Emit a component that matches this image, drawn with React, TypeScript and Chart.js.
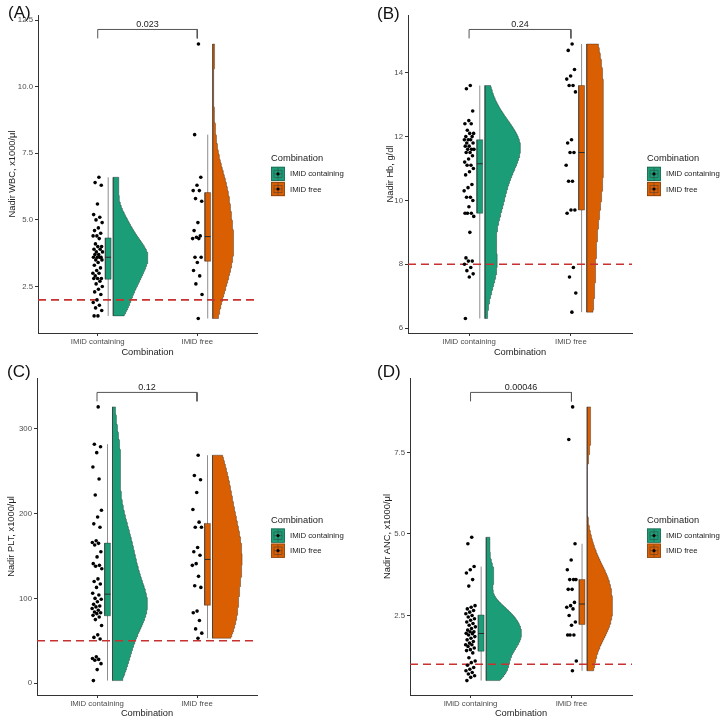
import { useEffect, useRef } from "react";
import { Chart, registerables } from "chart.js";

Chart.register(...registerables);

const FONT = '"Liberation Sans", Arial, Helvetica, sans-serif';
Chart.defaults.font.family = FONT;

// ---- shared categories ----
const groupNames = ["IMiD containing", "IMiD free"];
const groupColors = ["#1B9E77", "#D95F02"];
const xAxisTitle = "Combination";

// ---- (A) nadir WBC, x1000/μl ----
const wbcContaining = [6.6, 6.4, 6.3, 5.6, 5.2, 5.1, 5.0, 4.9, 4.7, 4.6, 4.5, 4.4, 4.4, 4.3, 4.1, 4.0, 4.0, 3.9, 3.9, 3.8, 3.8, 3.7, 3.7, 3.6, 3.6, 3.6, 3.6, 3.5, 3.5, 3.4, 3.3, 3.2, 3.1, 3.0, 3.0, 2.9, 2.8, 2.8, 2.8, 2.7, 2.6, 2.5, 2.4, 2.3, 2.2, 2.0, 1.9, 1.8, 1.7, 1.6, 1.4, 1.4];
const wbcFree = [11.6, 8.2, 6.6, 6.3, 6.1, 6.1, 5.8, 5.7, 4.9, 4.6, 4.4, 4.35, 4.3, 4.3, 3.6, 3.6, 3.4, 3.1, 2.9, 2.6, 2.2, 1.3];
const wbcTickLabels = ["2.5", "5.0", "7.5", "10.0", "12.5"];
const wbcCutoff = 2;
const wbcP = "0.023";

// ---- (B) nadir Hb, g/dl ----
const hbContaining = [13.6, 13.5, 12.8, 12.5, 12.4, 12.4, 12.2, 12.1, 12.1, 12.0, 12.0, 11.9, 11.9, 11.9, 11.8, 11.8, 11.7, 11.7, 11.6, 11.6, 11.6, 11.5, 11.5, 11.4, 11.3, 11.2, 11.1, 11.1, 11.0, 10.9, 10.8, 10.5, 10.4, 10.3, 10.1, 10.1, 10.0, 9.8, 9.6, 9.6, 9.6, 9.5, 9.0, 8.2, 8.1, 8.1, 8.0, 7.9, 7.8, 7.7, 7.6, 6.3];
const hbFree = [14.9, 14.7, 14.1, 13.9, 13.8, 13.6, 13.6, 13.4, 11.9, 11.8, 11.5, 11.5, 11.1, 10.6, 10.6, 9.7, 9.7, 9.6, 7.9, 7.6, 7.1, 6.5];
const hbTickLabels = ["6", "8", "10", "12", "14"];
const hbCutoff = 8;
const hbP = "0.24";

// ---- (C) nadir PLT, x1000/μl ----
const pltContaining = [326, 282, 279, 272, 255, 241, 222, 204, 196, 188, 184, 168, 166, 165, 163, 155, 149, 141, 139, 138, 135, 123, 120, 117, 113, 106, 104, 100, 99, 96, 93, 91, 90, 88, 86, 84, 83, 82, 80, 78, 75, 68, 57, 54, 52, 31, 29, 28, 27, 23, 16, 3];
const pltFree = [269, 245, 240, 225, 205, 190, 184, 184, 160, 155, 151, 141, 139, 126, 115, 113, 85, 83, 74, 64, 59, 53];
const pltTickLabels = ["0", "100", "200", "300"];
const pltCutoff = 50;
const pltP = "0.12";

// ---- (D) nadir ANC, x1000/μl ----
const ancContaining = [4.9, 4.7, 4.0, 3.9, 3.8, 3.6, 3.4, 2.8, 2.75, 2.7, 2.65, 2.6, 2.55, 2.5, 2.45, 2.4, 2.35, 2.3, 2.25, 2.2, 2.15, 2.1, 2.05, 2.0, 2.0, 1.95, 1.94, 1.9, 1.85, 1.8, 1.75, 1.7, 1.65, 1.6, 1.6, 1.55, 1.5, 1.45, 1.42, 1.35, 1.2, 1.1, 1.05, 0.97, 0.9, 0.85, 0.8, 0.75, 0.7, 0.65, 0.6, 0.5];
const ancFree = [8.9, 7.9, 4.7, 4.2, 3.9, 3.6, 3.6, 3.6, 3.3, 3.3, 2.9, 2.8, 2.75, 2.7, 2.5, 2.3, 2.2, 1.9, 1.9, 1.9, 1.1, 0.8];
const ancTickLabels = ["2.5", "5.0", "7.5"];
const ancCutoff = 1;
const ancP = "0.00046";

type PanelSpec = {
  tag: string;
  yTitle: string;
  series: number[][];
  tickLabels: string[];
  cutoff: number;
  p: string;
};

const panels: PanelSpec[] = [
  { tag: "(A)", yTitle: "Nadir WBC, x1000/μl", series: [wbcContaining, wbcFree], tickLabels: wbcTickLabels, cutoff: wbcCutoff, p: wbcP },
  { tag: "(B)", yTitle: "Nadir Hb, g/dl", series: [hbContaining, hbFree], tickLabels: hbTickLabels, cutoff: hbCutoff, p: hbP },
  { tag: "(C)", yTitle: "Nadir PLT, x1000/μl", series: [pltContaining, pltFree], tickLabels: pltTickLabels, cutoff: pltCutoff, p: pltP },
  { tag: "(D)", yTitle: "Nadir ANC, x1000/μl", series: [ancContaining, ancFree], tickLabels: ancTickLabels, cutoff: ancCutoff, p: ancP },
];

// ---- page geometry of each panel (pixels inside its canvas) ----
const PANEL_W = 362;
const PANEL_H = 362;
const frames = [
  { left: 0, top: 0, plotLeft: 38, plotRight: 257, plotTop: 15, plotBottom: 333, yTitleX: 12.7, xTitleY: 352.3, legendX: 271, legendY: 158.3, tagX: 8, tagY: 13 },
  { left: 362, top: 0, plotLeft: 46, plotRight: 270, plotTop: 15, plotBottom: 333, yTitleX: 28, xTitleY: 352.3, legendX: 285, legendY: 158.3, tagX: 15, tagY: 14 },
  { left: 0, top: 363, plotLeft: 37, plotRight: 257, plotTop: 15, plotBottom: 332, yTitleX: 11.7, xTitleY: 350.3, legendX: 271, legendY: 157, tagX: 7, tagY: 9 },
  { left: 362, top: 363, plotLeft: 48, plotRight: 270, plotTop: 15, plotBottom: 332, yTitleX: 25.5, xTitleY: 350.3, legendX: 285, legendY: 157, tagX: 15, tagY: 9 },
];

// ---- raincloud layout in category units ----
const X_MIN = 0.4;
const X_MAX = 2.6;
const VIOLIN_OFFSET = 0.155;
const VIOLIN_WIDTH = 0.35;
const BOX_OFFSET = 0.105;
const BOX_HALF = 0.029;
const JITTER = 0.05;

const TITLE_SIZE = 9.3;
const TITLE_LH = TITLE_SIZE * 1.2;

// ---- statistics ----
const sortedCopy = (v: number[]) => [...v].sort((a, b) => a - b);

function quantile(s: number[], p: number) {
  const h = (s.length - 1) * p;
  const i = Math.floor(h);
  const j = Math.min(i + 1, s.length - 1);
  return s[i] + (h - i) * (s[j] - s[i]);
}

function boxStats(v: number[]) {
  const s = sortedCopy(v);
  const q1 = quantile(s, 0.25);
  const med = quantile(s, 0.5);
  const q3 = quantile(s, 0.75);
  const iqr = q3 - q1;
  const lowW = s.find((d) => d >= q1 - 1.5 * iqr) as number;
  const highW = [...s].reverse().find((d) => d <= q3 + 1.5 * iqr) as number;
  return { q1, med, q3, lowW, highW };
}

// Silverman's rule of thumb (bw.nrd0)
function bandwidth(v: number[]) {
  const s = sortedCopy(v);
  const n = s.length;
  const mean = s.reduce((a, b) => a + b, 0) / n;
  const sd = Math.sqrt(s.reduce((a, b) => a + (b - mean) ** 2, 0) / (n - 1));
  const iqr = quantile(s, 0.75) - quantile(s, 0.25);
  let lo = Math.min(sd, iqr / 1.34);
  if (!(lo > 0)) lo = sd || 1;
  return 0.9 * lo * Math.pow(n, -0.2);
}

// Gaussian kernel density, trimmed to the data range
function density(v: number[], steps = 256) {
  const h = bandwidth(v);
  const lo = Math.min(...v);
  const hi = Math.max(...v);
  const out: { y: number; d: number }[] = [];
  const norm = v.length * h * Math.sqrt(2 * Math.PI);
  for (let k = 0; k < steps; k++) {
    const y = lo + ((hi - lo) * k) / (steps - 1);
    let sum = 0;
    for (const xi of v) {
      const u = (y - xi) / h;
      sum += Math.exp(-0.5 * u * u);
    }
    out.push({ y, d: sum / norm });
  }
  return out;
}

// evenly spread horizontal jitter for the raw points
const jitter = (i: number) => ((((i + 1) * 0.6180339887) % 1) - 0.5) * 2 * JITTER;

function buildPanel(panel: PanelSpec) {
  const all = panel.series.flat();
  const lo = Math.min(...all);
  const top = Math.max(...all);
  const bracketY = top + 0.053 * (top - lo);
  const span = bracketY - lo;
  const yMin = lo - 0.05 * span;
  const yMax = bracketY + 0.05 * span;

  const dens = panel.series.map((v) => density(v));
  const peak = Math.max(...dens.flat().map((p) => p.d));

  const datasets: any[] = [];
  panel.series.forEach((vals, g) => {
    const cx = g + 1;
    const color = groupColors[g];

    // half violin
    const base = cx + VIOLIN_OFFSET;
    const curve = dens[g];
    const outline = [
      { x: base, y: curve[0].y },
      ...curve.map((p) => ({ x: base + (p.d / peak) * VIOLIN_WIDTH, y: p.y })),
      { x: base, y: curve[curve.length - 1].y },
      { x: base, y: curve[0].y },
    ];
    datasets.push({
      data: outline,
      backgroundColor: color,
      borderColor: "rgba(30,30,30,0.75)",
      borderWidth: 0.5,
      fill: "shape",
      order: 6,
    });

    // box plot
    const b = boxStats(vals);
    const bx = cx + BOX_OFFSET;
    datasets.push({
      data: [{ x: bx, y: b.lowW }, { x: bx, y: b.highW }],
      borderColor: "#8e8e8e",
      borderWidth: 1,
      order: 5,
    });
    datasets.push({
      data: [
        { x: bx - BOX_HALF, y: b.q1 },
        { x: bx + BOX_HALF, y: b.q1 },
        { x: bx + BOX_HALF, y: b.q3 },
        { x: bx - BOX_HALF, y: b.q3 },
        { x: bx - BOX_HALF, y: b.q1 },
      ],
      backgroundColor: color,
      borderColor: "rgba(40,40,40,0.7)",
      borderWidth: 0.6,
      fill: "shape",
      order: 4,
    });
    datasets.push({
      data: [{ x: bx - BOX_HALF, y: b.med }, { x: bx + BOX_HALF, y: b.med }],
      borderColor: "#2a2a2a",
      borderWidth: 1,
      order: 3,
    });

    // raw observations
    datasets.push({
      data: vals.map((v, i) => ({ x: cx + jitter(i), y: v })),
      showLine: false,
      pointRadius: 1.8,
      pointBackgroundColor: "#000",
      pointBorderWidth: 0,
      order: 0,
    });
  });

  // clinical cut-off
  datasets.push({
    data: [{ x: X_MIN, y: panel.cutoff }, { x: X_MAX, y: panel.cutoff }],
    borderColor: "#c8312f",
    borderWidth: 1.6,
    borderDash: [8, 5],
    order: 2,
  });

  // comparison bracket
  const tick = 0.031 * span;
  datasets.push({
    data: [
      { x: 1, y: bracketY - tick },
      { x: 1, y: bracketY },
      { x: 2, y: bracketY },
      { x: 2, y: bracketY - tick },
    ],
    borderColor: "#555",
    borderWidth: 1,
    order: 1,
  });

  return { datasets, yMin, yMax, bracketY };
}

function drawLegendKey(ctx: CanvasRenderingContext2D, x: number, y: number, w: number, h: number, color: string) {
  ctx.fillStyle = color;
  ctx.fillRect(x, y, w, h);
  ctx.strokeStyle = "rgba(40,40,40,0.6)";
  ctx.lineWidth = 0.6;
  ctx.strokeRect(x + 0.5, y + 0.5, w - 1, h - 1);
  const cx = x + w / 2;
  const cy = y + h / 2;
  ctx.strokeStyle = "rgba(60,60,60,0.8)";
  ctx.beginPath();
  ctx.moveTo(cx, y + 1);
  ctx.lineTo(cx, y + h - 1);
  ctx.stroke();
  ctx.strokeRect(x + 3, y + 3.5, w - 6, h - 7);
  ctx.beginPath();
  ctx.moveTo(x + 3, cy);
  ctx.lineTo(x + w - 3, cy);
  ctx.stroke();
  ctx.fillStyle = "#000";
  ctx.beginPath();
  ctx.arc(cx, cy, 1.6, 0, Math.PI * 2);
  ctx.fill();
}

function Panel({ panel, frame }: { panel: PanelSpec; frame: (typeof frames)[number] }) {
  const ref = useRef<HTMLCanvasElement | null>(null);

  useEffect(() => {
    if (!ref.current) return;
    const { datasets, yMin, yMax, bracketY } = buildPanel(panel);
    const tickValues = panel.tickLabels.map((t) => parseFloat(t));

    const decor = {
      id: "decor",
      afterDatasetsDraw(chart: any) {
        const { ctx, scales } = chart;
        ctx.save();
        ctx.font = `9px ${FONT}`;
        ctx.fillStyle = "#222";
        ctx.textAlign = "center";
        ctx.textBaseline = "alphabetic";
        ctx.fillText(panel.p, scales.x.getPixelForValue(1.5), scales.y.getPixelForValue(bracketY) - 2.5);
        ctx.restore();
      },
      afterDraw(chart: any) {
        const { ctx } = chart;
        ctx.save();
        // panel tag
        ctx.font = `17px ${FONT}`;
        ctx.fillStyle = "#111";
        ctx.textAlign = "left";
        ctx.textBaseline = "middle";
        ctx.fillText(panel.tag, frame.tagX, frame.tagY);
        // legend
        ctx.font = `${TITLE_SIZE}px ${FONT}`;
        ctx.fillStyle = "#222";
        ctx.fillText(xAxisTitle, frame.legendX, frame.legendY);
        groupNames.forEach((name, g) => {
          const ky = frame.legendY + 8.4 + g * 15.1;
          drawLegendKey(ctx, frame.legendX, ky, 14, 14.4, groupColors[g]);
          ctx.font = `7.8px ${FONT}`;
          ctx.fillStyle = "#222";
          ctx.textAlign = "left";
          ctx.textBaseline = "middle";
          ctx.fillText(name, frame.legendX + 19, ky + 7.6);
        });
        ctx.restore();
      },
    };

    const chart = new Chart(ref.current, {
      type: "line",
      data: { datasets },
      options: {
        responsive: false,
        animation: false,
        events: [],
        layout: {
          padding: { left: 0, top: frame.plotTop, right: PANEL_W - frame.plotRight, bottom: 0 },
        },
        elements: {
          point: { radius: 0 },
          line: { tension: 0 },
        },
        plugins: {
          legend: { display: false },
          tooltip: { enabled: false },
        },
        scales: {
          x: {
            type: "linear",
            min: X_MIN,
            max: X_MAX,
            bounds: "data",
            afterBuildTicks: (s: any) => {
              s.ticks = groupNames.map((_, i) => ({ value: i + 1 }));
            },
            afterFit: (s: any) => {
              s.height = PANEL_H - frame.plotBottom;
            },
            ticks: {
              callback: (v: any) => groupNames[Math.round(Number(v)) - 1],
              font: { size: 7.8 },
              color: "#4d4d4d",
              padding: 1,
              maxRotation: 0,
              autoSkip: false,
            },
            grid: { display: true, drawOnChartArea: false, drawTicks: true, tickLength: 3, color: "#333", lineWidth: 1 },
            border: { display: true, color: "#333", width: 1 },
            title: {
              display: true,
              text: xAxisTitle,
              font: { size: TITLE_SIZE },
              color: "#222",
              padding: { top: 0, bottom: PANEL_H - frame.xTitleY - TITLE_LH / 2 },
            },
          },
          y: {
            type: "linear",
            min: yMin,
            max: yMax,
            bounds: "data",
            afterBuildTicks: (s: any) => {
              s.ticks = tickValues.map((v) => ({ value: v }));
            },
            afterFit: (s: any) => {
              s.width = frame.plotLeft;
            },
            ticks: {
              callback: (_v: any, i: number) => panel.tickLabels[i],
              font: { size: 7.8 },
              color: "#4d4d4d",
              padding: 2,
              autoSkip: false,
            },
            grid: { display: true, drawOnChartArea: false, drawTicks: true, tickLength: 3, color: "#333", lineWidth: 1 },
            border: { display: true, color: "#333", width: 1 },
            title: {
              display: true,
              text: panel.yTitle,
              font: { size: TITLE_SIZE },
              color: "#222",
              padding: { top: frame.yTitleX - TITLE_LH / 2, bottom: 0 },
            },
          },
        },
      },
      plugins: [decor],
    } as any);

    return () => chart.destroy();
  }, [panel, frame]);

  return (
    <canvas
      ref={ref}
      width={PANEL_W}
      height={PANEL_H}
      style={{ position: "absolute", left: frame.left, top: frame.top, width: PANEL_W, height: PANEL_H }}
    />
  );
}

export default function App() {
  return (
    <div style={{ position: "absolute", left: 0, top: 0, width: 724, height: 725, background: "#fff" }}>
      {panels.map((p, i) => (
        <Panel key={p.tag} panel={p} frame={frames[i]} />
      ))}
    </div>
  );
}
